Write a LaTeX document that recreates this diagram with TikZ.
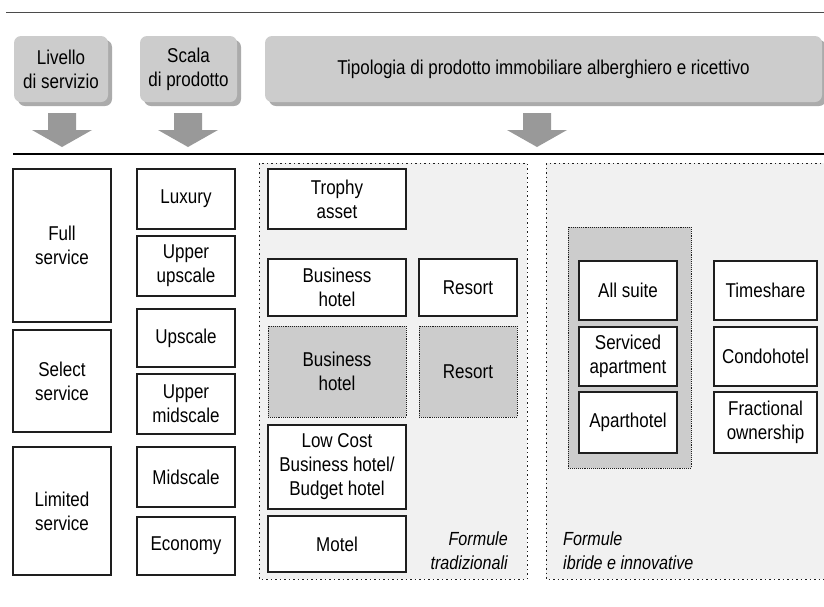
\documentclass[tikz,border=0pt]{standalone}
\usepackage{fontspec}
\setmainfont{Liberation Sans}[FakeStretch=0.85]
\usepackage{xcolor}
\usepackage{tikz}
\usetikzlibrary{positioning, arrows.meta}
\definecolor{grigiotesta}{HTML}{CCCCCC}
\definecolor{grigioombra}{HTML}{ABABAB}
\definecolor{grigiofreccia}{HTML}{999999}
\definecolor{grigiofondo}{HTML}{F1F1F1}
\definecolor{bordo}{HTML}{1E1E1E}

\begin{document}
\begin{tikzpicture}[
    x=1pt, y=-1pt,
    every node/.style={font=\fontsize{20}{24}\selectfont},
    testa/.style={fill=grigiotesta, rounded corners=7pt, align=center, inner sep=0pt},
    ombra/.style={fill=grigioombra, rounded corners=7pt},
    cella/.style={draw=bordo, fill=white, line width=1.2pt, align=center, inner sep=0pt},
    cellagrigia/.style={cella, fill=grigiotesta, line width=0.9pt, densely dotted},
    zona/.style={draw=bordo, fill=grigiofondo, line width=1pt, dash pattern=on 1.5pt off 3pt},
    nota/.style={font=\fontsize{19}{24}\selectfont\itshape, inner sep=0pt}
]
\useasboundingbox (0,0) rectangle (824,606);

% righe orizzontali
\draw[line width=1pt, draw=bordo!80] (6,12) -- (824,12);
\draw[line width=2pt, draw=black] (13,154) -- (824,154);

% intestazioni con ombra
\fill[ombra] (18,40) rectangle (112,106);
\fill[ombra] (144,40) rectangle (241,106);
\fill[ombra] (269,40) rectangle (826,106);
\node[testa, minimum width=94, minimum height=66] (livello) at (61,69) {Livello\\di servizio};
\node[testa, minimum width=97, minimum height=66] (scala) at (188.5,69) {Scala\\di prodotto};
\node[testa, minimum width=557, minimum height=66] (tipologia) at (543.5,69)
    {Tipologia di prodotto immobiliare alberghiero e ricettivo};

% frecce verso il basso
\foreach \x in {62,188,537} {
    \fill[grigiofreccia] (\x-14,113) -- (\x+14,113) -- (\x+14,130) -- (\x+30,130)
        -- (\x,147) -- (\x-30,130) -- (\x-14,130) -- cycle;
}

% aree delle formule
\draw[zona] (259,163) rectangle (527,579);
\draw[zona] (546,163) rectangle (830,579);
\draw[cellagrigia] (568,227) rectangle (691,468);

% livello di servizio
\node[cella, minimum width=98, minimum height=153] (full) at (62,245.5) {Full\\service};
\node[cella, minimum width=98, minimum height=102] (select) at (62,381) {Select\\service};
\node[cella, minimum width=98, minimum height=128] (limited) at (62,511) {Limited\\service};

% scala di prodotto
\node[cella, minimum width=98, minimum height=60] (luxury) at (186,199) {Luxury};
\node[cella, minimum width=98, minimum height=60] (upperupscale) at (186,266) {Upper\\upscale};
\node[cella, minimum width=98, minimum height=58] (upscale) at (186,338) {Upscale};
\node[cella, minimum width=98, minimum height=60] (uppermid) at (186,404) {Upper\\midscale};
\node[cella, minimum width=98, minimum height=60] (midscale) at (186,477) {Midscale};
\node[cella, minimum width=98, minimum height=58] (economy) at (186,546) {Economy};

% formule tradizionali
\node[cella, minimum width=138, minimum height=60] (trophy) at (337,199) {Trophy\\asset};
\node[cella, minimum width=138, minimum height=57] (business) at (337,287.5) {Business\\hotel};
\node[cella, minimum width=98, minimum height=57] (resort) at (468,287.5) {Resort};
\node[cellagrigia, minimum width=138, minimum height=91] (businessbis) at (337,371.5) {Business\\hotel};
\node[cellagrigia, minimum width=98, minimum height=91] (resortbis) at (468,371.5) {Resort};
\node[cella, minimum width=138, minimum height=84] (lowcost) at (337,467) {Low Cost\\Business hotel/\\Budget hotel};
\node[cella, minimum width=138, minimum height=56] (motel) at (337,544) {Motel};
\node[nota, anchor=east, align=right] (tradizionali) at (508,551) {Formule\\tradizionali};

% formule ibride e innovative
\node[cella, minimum width=98, minimum height=59] (allsuite) at (628,290.5) {All suite};
\node[cella, minimum width=98, minimum height=59] (serviced) at (628,356.5) {Serviced\\apartment};
\node[cella, minimum width=98, minimum height=61] (aparthotel) at (628,422.5) {Aparthotel};
\node[cella, minimum width=103, minimum height=59] (timeshare) at (765.5,290.5) {Timeshare};
\node[cella, minimum width=103, minimum height=59] (condohotel) at (765.5,356.5) {Condohotel};
\node[cella, minimum width=103, minimum height=61] (fractional) at (765.5,422.5) {Fractional\\ownership};
\node[nota, anchor=west, align=left] (ibride) at (563,551) {Formule\\ibride e innovative};
\end{tikzpicture}
\end{document}
